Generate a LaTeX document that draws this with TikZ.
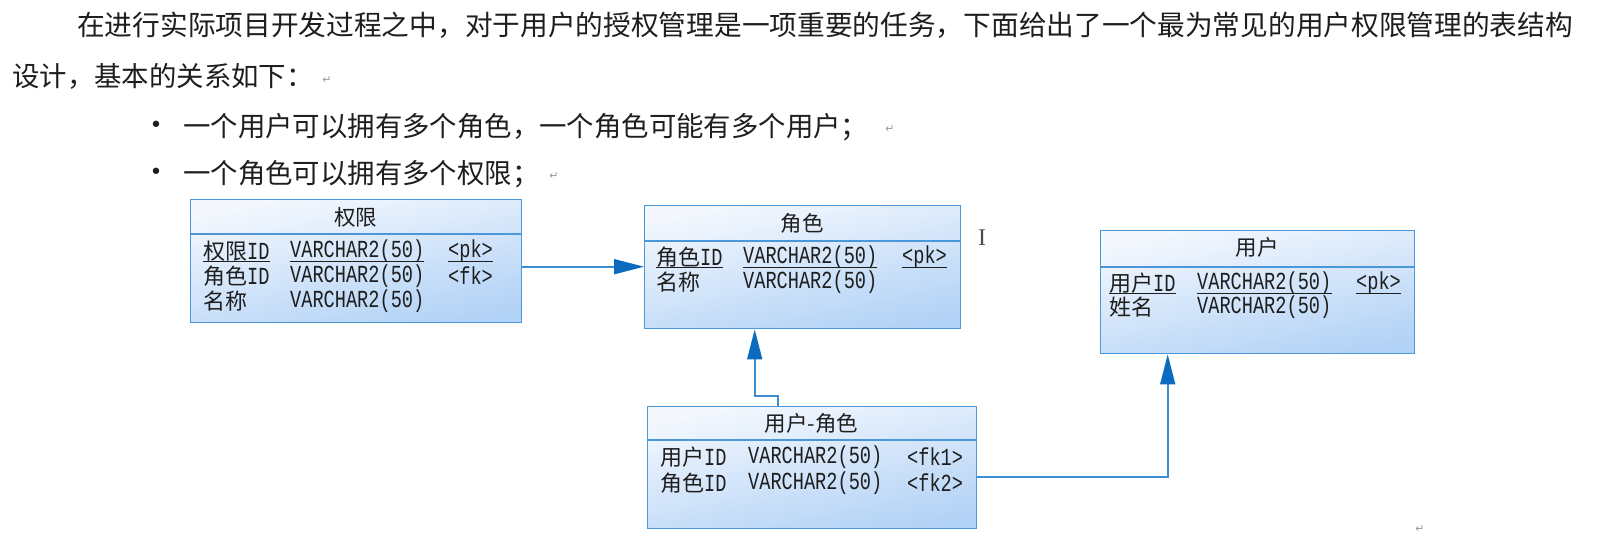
\documentclass[tikz,border=0pt]{standalone}
\usepackage{fontspec}
\setmainfont{Liberation Serif}
\newfontfamily\cjk{Noto Sans CJK SC}
\newfontfamily\tmono[FakeStretch=0.76]{Liberation Mono}
\newfontfamily\symfont{DejaVu Sans}
\usetikzlibrary{arrows.meta}
\definecolor{txt}{HTML}{1E1E1E}
\definecolor{boxline}{HTML}{4C97D8}
\definecolor{boxtop}{HTML}{F4F8FE}
\definecolor{boxbot}{HTML}{B2D2F6}
\definecolor{linec}{HTML}{3A8ED3}
\definecolor{arrowc}{HTML}{0B6BBF}
\definecolor{retc}{HTML}{9A9A9A}
\tikzset{
  tbl/.style={rectangle, draw=boxline, line width=1.4pt, top color=boxtop, bottom color=boxbot, shading angle=12, inner sep=0pt, anchor=north west},
  sepline/.style={draw=boxline, line width=1.4pt},
  hd/.style={font=\cjk\fontsize{21.5}{21.5}\selectfont, text=txt, inner sep=0pt},
  cell/.style={font=\tmono\fontsize{24.5}{24.5}\selectfont, text=txt, inner sep=0pt, anchor=west},
  uline/.style={draw=txt, line width=1pt},
  para/.style={font=\cjk\fontsize{27.4}{27.4}\selectfont, text=txt, inner sep=0pt, anchor=west},
  bul/.style={font=\symfont\fontsize{22}{22}\selectfont, text=txt, inner sep=0pt},
  retmark/.style={font=\symfont\fontsize{11}{11}\selectfont, text=retc, inner sep=0pt},
  conn/.style={draw=linec, line width=1.6pt, -{Triangle[length=30pt,width=15pt,color=arrowc]}},
}
\begin{document}
\begin{tikzpicture}[x=1pt,y=-1pt]
\fill[white] (0,0) rectangle (1608,535);
\useasboundingbox (0,0) rectangle (1608,535);

% paragraph text
\node[para, font=\cjk\fontsize{27.7}{27.7}\selectfont] (l1) at (77,25) {在进行实际项目开发过程之中，对于用户的授权管理是一项重要的任务，下面给出了一个最为常见的用户权限管理的表结构};
\node[para] (l2) at (12,76) {设计，基本的关系如下：};
\node[retmark] (r1) at (327,80) {↵};
\node[bul] (bu1) at (156,127) {•};
\node[para] (t1) at (183,127) {一个用户可以拥有多个角色，一个角色可能有多个用户；};
\node[retmark] (r2) at (890,129) {↵};
\node[bul] (bu2) at (156,174) {•};
\node[para] (t2) at (183,174) {一个角色可以拥有多个权限；};
\node[retmark] (r3) at (554,176) {↵};
\node[retmark] (r4) at (1420,529) {↵};
\node[font=\fontsize{24}{24}\selectfont, text=txt!80, inner sep=0pt] (cursor) at (982,238) {I};

% tables
\node[tbl, minimum width=331pt, minimum height=123pt] (qx) at (190,199) {};
\node[tbl, minimum width=316pt, minimum height=123pt] (js) at (644,205) {};
\node[tbl, minimum width=314pt, minimum height=123pt] (yh) at (1100,230) {};
\node[tbl, minimum width=329pt, minimum height=122pt] (yj) at (647,406) {};

\draw[sepline] ([yshift=-35pt]qx.north west) -- ([yshift=-35pt]qx.north east);
\draw[sepline] ([yshift=-36pt]js.north west) -- ([yshift=-36pt]js.north east);
\draw[sepline] ([yshift=-37pt]yh.north west) -- ([yshift=-37pt]yh.north east);
\draw[sepline] ([yshift=-34pt]yj.north west) -- ([yshift=-34pt]yj.north east);

% 权限
\node[hd] (qxh) at (355.5,217) {权限};
\node[cell] (qx11) at (203,251) {{\cjk\fontsize{22}{22}\selectfont 权限}ID};
\node[cell] (qx12) at (290,251) {VARCHAR2(50)};
\node[cell] (qx13) at (448,251) {<pk>};
\node[cell] (qx21) at (203,276) {{\cjk\fontsize{22}{22}\selectfont 角色}ID};
\node[cell] (qx22) at (290,276) {VARCHAR2(50)};
\node[cell] (qx23) at (448,276) {<fk>};
\node[cell] (qx31) at (203,301) {{\cjk\fontsize{22}{22}\selectfont 名称}};
\node[cell] (qx32) at (290,301) {VARCHAR2(50)};
\foreach \n in {qx11,qx12,qx13}{\draw[uline] ([yshift=-10pt]\n.west) -- ([yshift=-10pt]\n.east);}

% 角色
\node[hd] (jsh) at (802,223) {角色};
\node[cell] (js11) at (656,257) {{\cjk\fontsize{22}{22}\selectfont 角色}ID};
\node[cell] (js12) at (743,257) {VARCHAR2(50)};
\node[cell] (js13) at (902,257) {<pk>};
\node[cell] (js21) at (656,282) {{\cjk\fontsize{22}{22}\selectfont 名称}};
\node[cell] (js22) at (743,282) {VARCHAR2(50)};
\foreach \n in {js11,js12,js13}{\draw[uline] ([yshift=-10pt]\n.west) -- ([yshift=-10pt]\n.east);}

% 用户
\node[hd] (yhh) at (1257,247) {用户};
\node[cell] (yh11) at (1109,283) {{\cjk\fontsize{22}{22}\selectfont 用户}ID};
\node[cell] (yh12) at (1197,283) {VARCHAR2(50)};
\node[cell] (yh13) at (1356,283) {<pk>};
\node[cell] (yh21) at (1109,307) {{\cjk\fontsize{22}{22}\selectfont 姓名}};
\node[cell] (yh22) at (1197,307) {VARCHAR2(50)};
\foreach \n in {yh11,yh12,yh13}{\draw[uline] ([yshift=-10pt]\n.west) -- ([yshift=-10pt]\n.east);}

% 用户-角色
\node[hd] (yjh) at (811.5,423) {用户-角色};
\node[cell] (yj11) at (660,457) {{\cjk\fontsize{22}{22}\selectfont 用户}ID};
\node[cell] (yj12) at (748,457) {VARCHAR2(50)};
\node[cell] (yj13) at (907,457) {<fk1>};
\node[cell] (yj21) at (660,483) {{\cjk\fontsize{22}{22}\selectfont 角色}ID};
\node[cell] (yj22) at (748,483) {VARCHAR2(50)};
\node[cell] (yj23) at (907,483) {<fk2>};

% connectors
\draw[conn] ([yshift=-5.5pt]qx.east) -- ([yshift=-5.5pt]qx.east -| js.west);
\draw[conn] ([xshift=-34.5pt]yj.north) -- ++(0,-10) -| ([xshift=-48pt]js.south);
\draw[conn] ([yshift=-9pt]yj.east) -| ([xshift=-90pt]yh.south);
\end{tikzpicture}
\end{document}
